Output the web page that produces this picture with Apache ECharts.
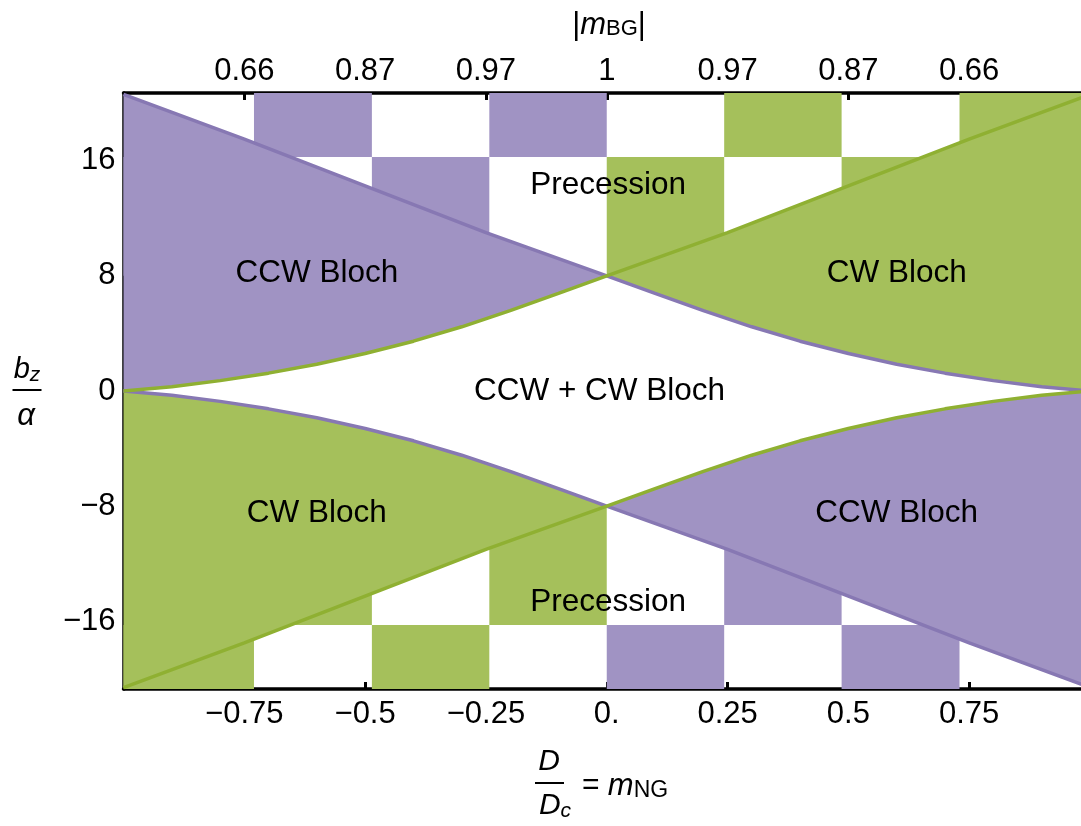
<!DOCTYPE html>
<html>
<head>
<meta charset="utf-8">
<title>Bloch phase diagram</title>
<script src="https://cdn.jsdelivr.net/npm/echarts@6/dist/echarts.min.js"></script>
<style>
  html, body { margin: 0; padding: 0; background: #fff; }
  #chart { width: 1081px; height: 826px; }
</style>
</head>
<body>
<div id="chart"></div>
<script>
// boundary curves
var purpleX = [-1, -0.75, -0.5, -0.25, 0, 0.1, 0.2, 0.3, 0.4, 0.5, 0.6, 0.7, 0.8, 0.9, 1];
var purpleUpper = [20.6, 17.5, 14.25, 11.0, 8.0, 6.78, 5.58, 4.46, 3.46, 2.6, 1.86, 1.24, 0.72, 0.3, 0];
var greenLower = [-20.6, -17.5, -14.25, -11.0, -8.0, -6.78, -5.58, -4.46, -3.46, -2.6, -1.86, -1.24, -0.72, -0.3, 0];

var greenX = [-1, -0.9, -0.8, -0.7, -0.6, -0.5, -0.4, -0.3, -0.2, -0.1, 0, 0.25, 0.5, 0.75, 1];
var greenUpper = [0, 0.3, 0.72, 1.24, 1.86, 2.6, 3.46, 4.46, 5.58, 6.78, 8.0, 11.0, 14.25, 17.5, 20.6];
var purpleLower = [0, -0.3, -0.72, -1.24, -1.86, -2.6, -3.46, -4.46, -5.58, -6.78, -8.0, -11.0, -14.25, -17.5, -20.6];

// checkerboard in the precession regions
var cellEdges = [-1, -0.73, -0.486, -0.243, 0, 0.243, 0.486, 0.73, 1];
var upperBands = [[16.25, 20.7], [8, 16.25]];
var upperCells = [
    ['', 'CCW', '', 'CCW', '', 'CW', '', 'CW'],
    ['CCW', '', 'CCW', '', 'CW', '', 'CW', '']
];
var lowerBands = [[-20.7, -16.25], [-16.25, -8]];
var lowerCells = [
    ['CW', '', 'CW', '', 'CCW', '', 'CCW', ''],
    ['', 'CW', '', 'CW', '', 'CCW', '', 'CCW']
];

// ticks
var xTicks = [-0.75, -0.5, -0.25, 0, 0.25, 0.5, 0.75];
var xTickLabels = ['\u22120.75', '\u22120.5', '\u22120.25', '0.', '0.25', '0.5', '0.75'];
var topTickLabels = ['0.66', '0.87', '0.97', '1', '0.97', '0.87', '0.66'];
var yTicks = [-16, -8, 0, 8, 16];
var yTickLabels = ['\u221216', '\u22128', '0', '8', '16'];

// region names
var regionNames = ['Precession', 'CCW Bloch', 'CW Bloch', 'CCW + CW Bloch', 'CW Bloch', 'CCW Bloch', 'Precession'];
var regionX = [0.003, -0.6, 0.6, -0.015, -0.6, 0.6, 0.003];
var regionY = [14.3, 8.2, 8.2, 0, -8.5, -8.5, -14.7];

var PURPLE_LINE = '#8778B3';
var GREEN_LINE = '#8FB032';
var PURPLE_FILL = '#A093C3';
var GREEN_FILL = '#A5C05B';
var FONT = "'Liberation Sans', Arial, sans-serif";

function fillOf(kind) {
    return kind === 'CCW' ? PURPLE_FILL : GREEN_FILL;
}

function points(xs, ys, lo, hi) {
    var out = [];
    for (var i = 0; i < xs.length; i++) {
        if (xs[i] >= lo && xs[i] <= hi) {
            out.push([xs[i], ys[i]]);
        }
    }
    return out;
}

// bands between the two curves, split where they cross
var regions = [
    { kind: 'CCW', pts: points(purpleX, purpleUpper, -1, 0).concat(points(greenX, greenUpper, -1, 0).reverse()) },
    { kind: 'CW', pts: points(greenX, greenUpper, 0, 1).concat(points(purpleX, purpleUpper, 0, 1).reverse()) },
    { kind: 'CW', pts: points(greenX, purpleLower, -1, 0).concat(points(purpleX, greenLower, -1, 0).reverse()) },
    { kind: 'CCW', pts: points(greenX, purpleLower, 0, 1).concat(points(purpleX, greenLower, 0, 1).reverse()) }
];

var cells = [];
function addCells(bands, pattern) {
    for (var r = 0; r < bands.length; r++) {
        for (var c = 0; c < pattern[r].length; c++) {
            if (pattern[r][c]) {
                cells.push([cellEdges[c], cellEdges[c + 1], bands[r][0], bands[r][1], pattern[r][c] === 'CCW' ? 1 : 2]);
            }
        }
    }
}
addCells(upperBands, upperCells);
addCells(lowerBands, lowerCells);

function pair(xs, ys) {
    return xs.map(function (x, i) { return [x, ys[i]]; });
}

function tickLabel(list) {
    return function (value) {
        for (var i = 0; i < xTicks.length; i++) {
            if (Math.abs(xTicks[i] - value) < 1e-6) return list[i];
        }
        return '';
    };
}

var axisLine = { onZero: false, lineStyle: { color: '#000', width: 3.5 } };
var tickStyle = { color: '#000', width: 3 };
var labelStyle = { color: '#000', fontSize: 31, fontFamily: FONT };

var chart = echarts.init(document.getElementById('chart'));

var option = {
    animation: false,
    grid: {
        left: 123.5,
        right: -9,
        top: 93,
        bottom: 137,
        containLabel: false,
        outerBoundsMode: 'none'
    },
    xAxis: [{
        type: 'value',
        position: 'bottom',
        min: -1,
        max: 1,
        axisLine: axisLine,
        axisTick: { inside: true, length: 7, customValues: xTicks, lineStyle: tickStyle },
        axisLabel: Object.assign({ customValues: xTicks, margin: 10, formatter: tickLabel(xTickLabels) }, labelStyle),
        splitLine: { show: false }
    }, {
        type: 'value',
        position: 'top',
        min: -1,
        max: 1,
        axisLine: axisLine,
        axisTick: { inside: true, length: 7, customValues: xTicks, lineStyle: tickStyle },
        axisLabel: Object.assign({ customValues: xTicks, margin: 6, formatter: tickLabel(topTickLabels) }, labelStyle),
        splitLine: { show: false }
    }],
    yAxis: {
        type: 'value',
        min: -20.7,
        max: 20.7,
        axisLine: axisLine,
        axisTick: { inside: true, length: 7, customValues: yTicks, lineStyle: tickStyle },
        axisLabel: Object.assign({
            customValues: yTicks,
            margin: 8,
            formatter: function (v) {
                var i = yTicks.indexOf(v);
                return i < 0 ? '' : yTickLabels[i];
            }
        }, labelStyle),
        splitLine: { show: false }
    },
    graphic: [
        // |m_BG|
        {
            type: 'text', x: 609, y: 25, silent: true,
            style: {
                text: '|{i|m}{s|BG}|',
                fontSize: 31, fontFamily: FONT, fill: '#000',
                align: 'center', verticalAlign: 'middle',
                rich: {
                    i: { fontStyle: 'italic', fontSize: 31, fontFamily: FONT },
                    s: { fontSize: 22, fontFamily: FONT, padding: [8, 0, 0, 0] }
                }
            }
        },
        // D / D_c = m_NG
        {
            type: 'text', x: 549, y: 762, silent: true,
            style: { text: 'D', fontSize: 30, fontStyle: 'italic', fontFamily: FONT, fill: '#000', align: 'center', verticalAlign: 'middle' }
        },
        {
            type: 'line', silent: true,
            shape: { x1: 535, y1: 783, x2: 564, y2: 783 },
            style: { stroke: '#000', lineWidth: 2 }
        },
        {
            type: 'text', x: 555, y: 806, silent: true,
            style: {
                text: '{d|D}{c|c}', fill: '#000', align: 'center', verticalAlign: 'middle',
                rich: {
                    d: { fontSize: 30, fontStyle: 'italic', fontFamily: FONT },
                    c: { fontSize: 21, fontStyle: 'italic', fontFamily: FONT, padding: [10, 0, 0, 0] }
                }
            }
        },
        {
            type: 'text', x: 582, y: 786, silent: true,
            style: {
                text: '= {m|m}{s|NG}', fontSize: 30, fontFamily: FONT, fill: '#000',
                align: 'left', verticalAlign: 'middle',
                rich: {
                    m: { fontSize: 31, fontStyle: 'italic', fontFamily: FONT },
                    s: { fontSize: 23, fontFamily: FONT, padding: [10, 0, 0, 0] }
                }
            }
        },
        // b_z / alpha
        {
            type: 'text', x: 27, y: 370, silent: true,
            style: {
                text: '{b|b}{z|z}', fill: '#000', align: 'center', verticalAlign: 'middle',
                rich: {
                    b: { fontSize: 29, fontStyle: 'italic', fontFamily: FONT },
                    z: { fontSize: 21, fontStyle: 'italic', fontFamily: FONT, padding: [10, 0, 0, 0] }
                }
            }
        },
        {
            type: 'line', silent: true,
            shape: { x1: 12.5, y1: 390, x2: 41.5, y2: 390 },
            style: { stroke: '#000', lineWidth: 2 }
        },
        {
            type: 'text', x: 26, y: 416, silent: true,
            style: { text: '\u03b1', fontSize: 31, fontStyle: 'italic', fontFamily: FONT, fill: '#000', align: 'center', verticalAlign: 'middle' }
        }
    ],
    series: [{
        // checkerboard
        type: 'custom',
        silent: true,
        data: cells,
        encode: { x: [0, 1], y: [2, 3] },
        renderItem: function (params, api) {
            var a = api.coord([api.value(0), api.value(3)]);
            var b = api.coord([api.value(1), api.value(2)]);
            return {
                type: 'rect',
                shape: { x: a[0], y: a[1], width: b[0] - a[0], height: b[1] - a[1] },
                style: { fill: api.value(4) === 1 ? PURPLE_FILL : GREEN_FILL }
            };
        }
    }, {
        // bloch regions
        type: 'custom',
        silent: true,
        data: regions.map(function (r) { return [r.pts[0][0], r.pts[0][1]]; }),
        renderItem: function (params, api) {
            var r = regions[params.dataIndex];
            return {
                type: 'polygon',
                shape: { points: r.pts.map(function (p) { return api.coord(p); }) },
                style: { fill: fillOf(r.kind) }
            };
        }
    }, {
        type: 'line', data: pair(purpleX, purpleUpper), symbol: 'none', silent: true,
        lineStyle: { color: PURPLE_LINE, width: 3.5 }
    }, {
        type: 'line', data: pair(greenX, purpleLower), symbol: 'none', silent: true,
        lineStyle: { color: PURPLE_LINE, width: 3.5 }
    }, {
        type: 'line', data: pair(greenX, greenUpper), symbol: 'none', silent: true,
        lineStyle: { color: GREEN_LINE, width: 3.5 }
    }, {
        type: 'line', data: pair(purpleX, greenLower), symbol: 'none', silent: true,
        lineStyle: { color: GREEN_LINE, width: 3.5 }
    }, {
        // region names
        type: 'custom',
        silent: true,
        data: regionX.map(function (x, i) { return [x, regionY[i]]; }),
        renderItem: function (params, api) {
            var p = api.coord([api.value(0), api.value(1)]);
            return {
                type: 'text',
                x: p[0],
                y: p[1],
                style: {
                    text: regionNames[params.dataIndex],
                    fontSize: 31.5, fontFamily: FONT, fill: '#000',
                    align: 'center', verticalAlign: 'middle'
                }
            };
        }
    }]
};

chart.setOption(option);
</script>
</body>
</html>
